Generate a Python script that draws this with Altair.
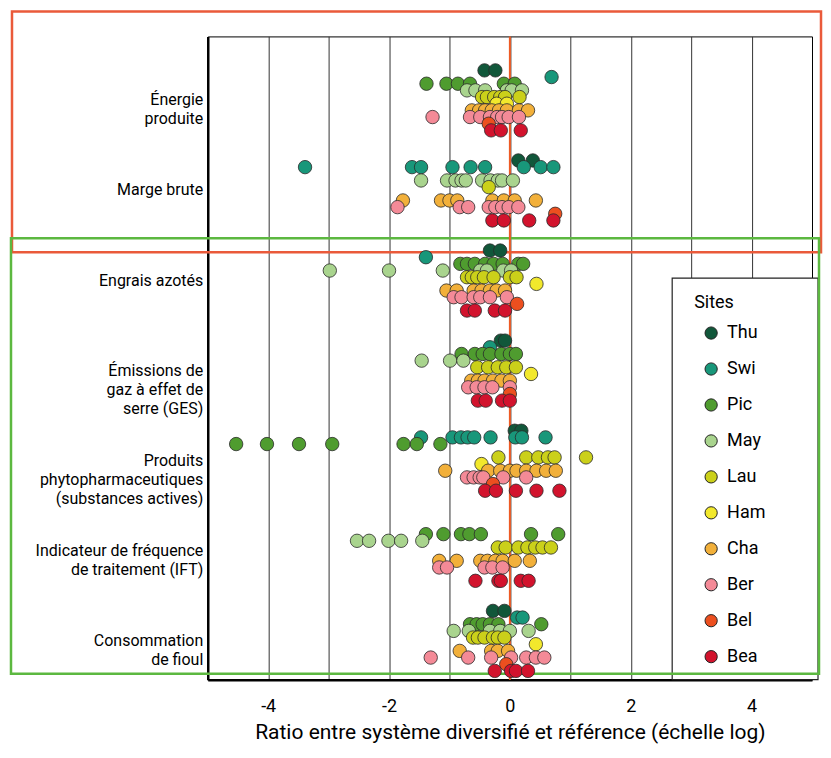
import altair as alt
import pandas as pd

# Categories (axis labels, "|" = line break)
categories = [
    "Énergie|produite",
    "Marge brute",
    "Engrais azotés",
    "Émissions de|gaz à effet de|serre (GES)",
    "Produits|phytopharmaceutiques|(substances actives)",
    "Indicateur de fréquence|de traitement (IFT)",
    "Consommation|de fioul",
]

sites = ["Thu", "Swi", "Pic", "May", "Lau", "Ham", "Cha", "Ber", "Bel", "Bea"]
site_colors = ["#11573a", "#18977a", "#4f9c2f", "#a9d48e", "#cbd01a",
               "#f2e82c", "#f2b03a", "#f48a97", "#ec4f1f", "#d2132d"]

# log-ratio values per site, one list per category (same order as categories)
thu = [[-0.42, -0.24], [0.14, 0.38], [-0.33, -0.16], [-0.15, -0.08],
       [0.08, 0.19], [], [-0.28, -0.09]]
swi = [[0.69], [-3.39, -1.62, -1.47, -0.95, -0.65, -0.41, 0.23, 0.51, 0.72],
       [-1.39], [-0.33], [-1.47, -0.95, -0.81, -0.70, -0.59, -0.32, 0.09, 0.20, 0.59],
       [], [0.12, 0.21]]
pic = [[-1.38, -1.05, -0.86, -0.66, -0.10, 0.08], [],
       [-0.82, -0.71, -0.58, -0.41, -0.27, -0.12, 0.14, 0.22],
       [-0.80, -0.58, -0.45, -0.33, -0.14, 0.0, 0.10],
       [-4.53, -4.02, -3.49, -2.94, -1.76, -1.54, -1.15],
       [-1.39, -1.10, -0.81, -0.67, -0.48, 0.35, 0.80],
       [-0.66, -0.55, -0.45, -0.33, -0.19, 0.52]]
may = [[-0.71, -0.57, -0.41, -0.05, 0.03, 0.20],
       [-1.47, -1.04, -0.90, -0.80, -0.73, -0.46, -0.32, -0.20, -0.13, 0.05],
       [-2.98, -2.00, -1.11, -0.49, -0.38, -0.11, 0.02],
       [-1.46, -0.99, -0.77], [],
       [-2.53, -2.33, -2.01, -1.80, -1.45],
       [-0.93, -0.68, -0.33, -0.16, 0.0, 0.31]]
lau = [[-0.46, -0.38, -0.26, -0.16, -0.08, 0.16], [-0.35],
       [-0.71, -0.63, -0.54, -0.43, -0.27, 0.0, 0.11],
       [-0.54, -0.36, -0.20, -0.06, 0.10],
       [-0.19, 0.27, 0.47, 0.63, 0.74, 1.26],
       [-0.20, -0.07, 0.14, 0.29, 0.42, 0.54, 0.68],
       [-0.61, -0.53, -0.42, -0.28, -0.20, -0.09]]
ham = [[-0.22, -0.05], [], [0.44], [0.35], [-0.47], [], [0.43]]
cha = [[-0.63, -0.51, -0.41, -0.30, -0.18, -0.05, 0.15, 0.30],
       [-1.77, -1.14, -1.00, -0.87, -0.29, -0.10, 0.08, 0.43],
       [-1.05, -0.88, -0.60, -0.47, -0.33, -0.22, -0.08],
       [-0.64, -0.53, -0.42, -0.28, -0.14, 0.0],
       [-1.07, -0.36, -0.16, 0.0, 0.11, 0.27, 0.44, 0.60, 0.76],
       [-1.17, -0.88, -0.49, -0.37, -0.24, -0.12, 0.08, 0.33],
       [-0.83, -0.31, -0.20, -0.03]]
ber = [[-1.28, -0.66, -0.49, -0.33, -0.21, -0.13, -0.02, 0.15],
       [-1.86, -0.83, -0.69, -0.35, -0.24, -0.13, -0.02, 0.14],
       [-0.93, -0.80, -0.60, -0.49, -0.33, -0.05],
       [-0.69, -0.55, -0.42, -0.29, 0.0],
       [-0.71, -0.60, -0.50, -0.44, -0.11, 0.27],
       [-1.17, -1.04, -0.42, -0.29, -0.12],
       [-1.31, -0.69, -0.31, 0.02, 0.27, 0.43, 0.57]]
bel = [[-0.35], [0.75], [0.12], [0.0], [-0.28], [], [-0.06]]
bea = [[-0.31, -0.15, 0.18], [-0.29, -0.10, 0.32, 0.72],
       [-0.71, -0.58, -0.25, -0.08], [-0.53, -0.40, -0.13, 0.0],
       [-0.41, -0.23, 0.10, 0.44, 0.82],
       [-0.57, -0.19, -0.15, 0.18, 0.31],
       [-0.25, 0.02, 0.10, 0.30]]

site_values = [thu, swi, pic, may, lau, ham, cha, ber, bel, bea]

rows = []
for site, per_cat in zip(sites, site_values):
    for cat, vals in zip(categories, per_cat):
        for v in vals:
            rows.append({"categorie": cat, "site": site, "ratio": v})
df = pd.DataFrame(rows)

FONT = "Roboto"

points = alt.Chart(df).mark_circle(
    size=180, opacity=1, stroke="#2a2a2a", strokeWidth=0.8
).encode(
    x=alt.X(
        "ratio:Q",
        scale=alt.Scale(domain=[-5, 5], nice=False, zero=False),
        axis=alt.Axis(
            values=list(range(-4, 5)),
            labelExpr="datum.value % 2 == 0 ? toString(datum.value) : ''",
            labelOverlap=False,
            grid=True, gridColor="#333333", gridWidth=1,
            ticks=False, domainColor="black", domainWidth=2.5,
            labelFontSize=18, labelPadding=18, labelColor="black",
            title="Ratio entre système diversifié et référence (échelle log)",
            titleFontSize=21, titleFontWeight="normal", titleColor="black",
            titlePadding=6,
        ),
    ),
    y=alt.Y(
        "categorie:N",
        sort=categories,
        scale=alt.Scale(paddingInner=0.26, paddingOuter=0.2, align=0.85),
        axis=alt.Axis(
            title=None,
            labelExpr="split(datum.label, '|')",
            labelFontSize=16, labelLineHeight=19, labelColor="black",
            ticks=False, domainColor="black", domainWidth=2.5,
            labelPadding=5, labelLimit=260,
            minExtent=196, maxExtent=196,
        ),
    ),
    yOffset=alt.YOffset("site:N", sort=sites, scale=alt.Scale(domain=sites)),
    color=alt.Color(
        "site:N",
        sort=sites,
        scale=alt.Scale(domain=sites, range=site_colors),
        legend=alt.Legend(
            title="Sites", orient="none", legendX=465, legendY=236,
            padding=22,
            titleFontSize=18, titleFontWeight="normal", titleColor="black",
            titlePadding=12,
            labelFontSize=18, labelColor="black", labelOffset=7,
            symbolType="circle", symbolSize=150,
            symbolStrokeColor="#222222", symbolStrokeWidth=1,
            symbolOffset=8, rowPadding=18,
        ),
    ),
)

zero_rule = alt.Chart(pd.DataFrame({"ratio": [0]})).mark_rule(
    color="#ee5a24", strokeWidth=2
).encode(x="ratio:Q")

one = pd.DataFrame({"g": [0]})
eco_box = alt.Chart(one).mark_rect(
    fillOpacity=0, stroke="#ea5a3a", strokeWidth=2.5
).encode(
    x=alt.value(-196), x2=alt.value(614), y=alt.value(-25), y2=alt.value(216)
)
env_box = alt.Chart(one).mark_rect(
    fillOpacity=0, stroke="#5cb840", strokeWidth=2.5
).encode(
    x=alt.value(-197), x2=alt.value(612), y=alt.value(202), y2=alt.value(638)
)
legend_box = alt.Chart(one).mark_rect(
    fill="white", stroke="#222222", strokeWidth=1.2
).encode(
    x=alt.value(465), x2=alt.value(611), y=alt.value(242), y2=alt.value(644)
)

chart = alt.layer(legend_box, eco_box, env_box, zero_rule, points).properties(
    width=605, height=644,
    padding={"left": 1, "top": 1, "right": 0, "bottom": 2},
    background="white",
).configure_view(
    stroke="black", strokeWidth=1
).configure_axis(
    labelFont=FONT, titleFont=FONT
).configure_legend(
    labelFont=FONT, titleFont=FONT
)

chart.save("out.html", embed_options={"renderer": "svg", "actions": False})
